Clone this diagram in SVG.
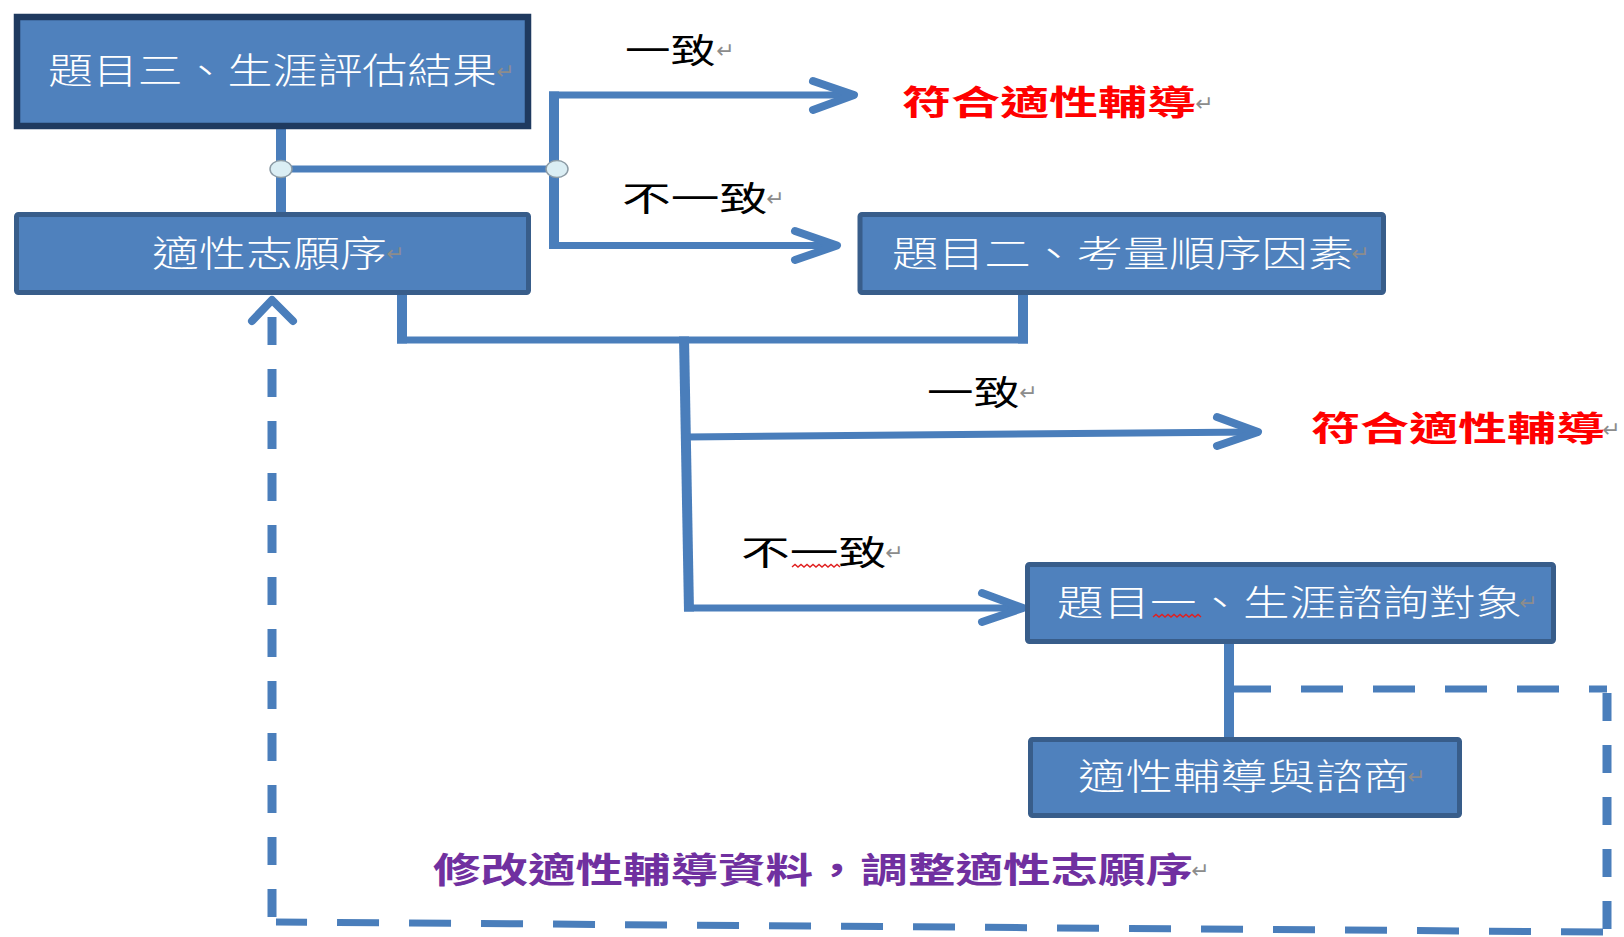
<svg xmlns="http://www.w3.org/2000/svg" width="1624" height="937" viewBox="0 0 1624 937">
<style>
.box{fill:#4F81BD;stroke:#385D8A;stroke-width:5}
.boxA{stroke:#1F3A5F;stroke-width:6.5}
.bt{font-family:"Noto Sans CJK TC","Noto Sans CJK SC",sans-serif;font-size:36px;font-weight:300;fill:#FFFFFF;dominant-baseline:central}
.ret{font-family:"DejaVu Sans",sans-serif;font-size:22px;fill:#8C8C8C;dominant-baseline:central}
.lbl{font-family:"Noto Sans CJK TC","Noto Sans CJK SC",sans-serif;font-size:34px;fill:#000000;dominant-baseline:central}
.red{font-family:"Noto Sans CJK TC","Noto Sans CJK SC",sans-serif;font-size:34px;font-weight:700;fill:#FF0000;dominant-baseline:central}
.pur{font-family:"Noto Sans CJK TC","Noto Sans CJK SC",sans-serif;font-size:35px;font-weight:700;fill:#7030A0;dominant-baseline:central}
.h{stroke:#4A7EBB;stroke-width:7;fill:none}
.v{stroke:#4A7EBB;stroke-width:10;fill:none}
.chev{stroke:#4A7EBB;stroke-width:8;fill:none;stroke-linecap:round;stroke-linejoin:round}
.dh{stroke:#4A7EBB;stroke-width:7;fill:none;stroke-dasharray:42 30}
.dv{stroke:#4A7EBB;stroke-width:9;fill:none;stroke-dasharray:28 24}
.junc{fill:#DBEEF4;stroke:#8C9BA5;stroke-width:1.5}
.sq{stroke:#E02020;stroke-width:1.4;fill:none}
</style>

<g id="connectors">
  <!-- A to B -->
  <line class="v" x1="281" y1="129" x2="281" y2="212"/>
  <line class="h" x1="281" y1="169" x2="557" y2="169"/>
  <!-- bracket -->
  <line class="v" x1="554" y1="91.5" x2="554" y2="249"/>
  <line class="h" x1="549" y1="95" x2="851" y2="95"/>
  <line class="h" x1="549" y1="245.5" x2="834" y2="245.5"/>
  <polyline class="chev" points="813,81 854,95 813,110"/>
  <polyline class="chev" points="795,231 837,245.5 795,260"/>
  <ellipse class="junc" cx="281" cy="169" rx="11" ry="8.5"/>
  <ellipse class="junc" cx="557" cy="169" rx="11" ry="8.5"/>
  <!-- B and C to split -->
  <line class="v" x1="402" y1="295" x2="402" y2="343.5"/>
  <line class="h" x1="397" y1="340" x2="1028" y2="340"/>
  <line class="v" x1="1023" y1="295" x2="1023" y2="343.5"/>
  <line class="v" x1="684" y1="336.5" x2="689" y2="611.5"/>
  <!-- middle branch -->
  <line class="h" x1="686" y1="437" x2="1255" y2="432"/>
  <polyline class="chev" points="1217,417 1258,432 1217,446"/>
  <!-- lower branch -->
  <line class="h" x1="684" y1="608" x2="1020" y2="608"/>
  <polyline class="chev" points="982,593 1023,608 982,622"/>
  <!-- D to E -->
  <line class="v" x1="1229" y1="644" x2="1229" y2="737"/>
  <!-- dashed feedback loop -->
  <line class="dh" x1="1229" y1="689" x2="1607" y2="689"/>
  <line class="dv" x1="1607" y1="693" x2="1607" y2="937"/>
  <line class="dh" x1="1603" y1="932" x2="276" y2="922"/>
  <line class="dv" x1="272" y1="917" x2="272" y2="304"/>
  <polyline class="chev" points="252,321 272,300 293,321"/>
</g>

<g id="nodeA">
  <rect class="box boxA" x="17" y="17" width="511" height="109"/>
  <text class="bt" x="48" y="68" textLength="449" lengthAdjust="spacingAndGlyphs">題目三、生涯評估結果</text>
  <text class="ret" x="496" y="71">↵</text>
</g>

<g id="nodeB">
  <rect class="box" x="16.5" y="214.5" width="512" height="78" rx="2"/>
  <text class="bt" x="152" y="251" textLength="235" lengthAdjust="spacingAndGlyphs">適性志願序</text>
  <text class="ret" x="386" y="253">↵</text>
</g>

<g id="nodeC">
  <rect class="box" x="860" y="214.5" width="523.5" height="78" rx="2"/>
  <text class="bt" x="892" y="251" textLength="462" lengthAdjust="spacingAndGlyphs">題目二、考量順序因素</text>
  <text class="ret" x="1351" y="253">↵</text>
</g>

<g id="nodeD">
  <rect class="box" x="1027.5" y="564.5" width="526" height="77" rx="2"/>
  <text class="bt" x="1057" y="600" textLength="465" lengthAdjust="spacingAndGlyphs">題目一、生涯諮詢對象</text>
  <text class="ret" x="1519" y="602">↵</text>
  <path class="sq" d="M1153,617 l3,-2.5 l3,2.5 l3,-2.5 l3,2.5 l3,-2.5 l3,2.5 l3,-2.5 l3,2.5 l3,-2.5 l3,2.5 l3,-2.5 l3,2.5 l3,-2.5 l3,2.5 l3,-2.5 l3,2.5"/>
</g>

<g id="nodeE">
  <rect class="box" x="1030.5" y="739.5" width="429" height="76" rx="2"/>
  <text class="bt" x="1078" y="774" textLength="332" lengthAdjust="spacingAndGlyphs">適性輔導與諮商</text>
  <text class="ret" x="1407" y="776">↵</text>
</g>

<g id="label-agree-top">
  <text class="lbl" x="625" y="48" textLength="91" lengthAdjust="spacingAndGlyphs">一致</text>
  <text class="ret" x="716" y="50">↵</text>
</g>

<g id="result-top">
  <text class="red" x="902" y="100" textLength="294" lengthAdjust="spacingAndGlyphs">符合適性輔導</text>
  <text class="ret" x="1195" y="103">↵</text>
</g>

<g id="label-disagree-top">
  <text class="lbl" x="622" y="196" textLength="146" lengthAdjust="spacingAndGlyphs">不一致</text>
  <text class="ret" x="766" y="198">↵</text>
</g>

<g id="label-agree-mid">
  <text class="lbl" x="927" y="390" textLength="93" lengthAdjust="spacingAndGlyphs">一致</text>
  <text class="ret" x="1019" y="392">↵</text>
</g>

<g id="result-mid">
  <text class="red" x="1311" y="426" textLength="294" lengthAdjust="spacingAndGlyphs">符合適性輔導</text>
  <text class="ret" x="1602" y="429">↵</text>
</g>

<g id="label-disagree-low">
  <text class="lbl" x="741" y="550" textLength="146" lengthAdjust="spacingAndGlyphs">不一致</text>
  <text class="ret" x="885" y="552">↵</text>
  <path class="sq" d="M792,567 l3,-2.5 l3,2.5 l3,-2.5 l3,2.5 l3,-2.5 l3,2.5 l3,-2.5 l3,2.5 l3,-2.5 l3,2.5 l3,-2.5 l3,2.5 l3,-2.5 l3,2.5 l3,-2.5 l3,2.5"/>
</g>

<g id="feedback-note">
  <text class="pur" x="433" y="867" textLength="760" lengthAdjust="spacingAndGlyphs">修改適性輔導資料，調整適性志願序</text>
  <text class="ret" x="1191" y="870">↵</text>
</g>
</svg>
